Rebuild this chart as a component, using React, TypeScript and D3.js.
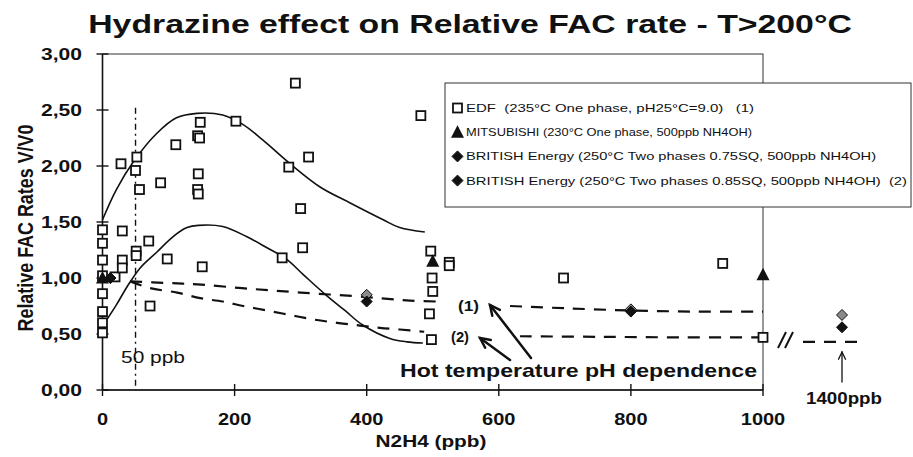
import React from 'react';
import * as d3 from 'd3';

const xTicks = [0, 200, 400, 600, 800, 1000];
const yTicks = [0, 0.5, 1, 1.5, 2, 2.5, 3];

// EDF (235°C One phase) [ppb, V/V0]
const edf: [number, number][] = [
  [0, 1.43], [0, 1.31], [0, 1.16], [0, 1.02], [0, 0.86], [0, 0.7], [0, 0.6], [0, 0.51],
  [19, 1.01], [28, 2.02], [30, 1.42], [30, 1.16], [30, 1.09],
  [52, 2.08], [50, 1.96], [56, 1.79], [51, 1.24], [51, 1.2],
  [70, 1.33], [72, 0.75], [88, 1.85], [98, 1.17], [111, 2.19],
  [144, 2.27], [147, 2.25], [145, 1.93], [144, 1.79], [145, 1.75], [148, 2.39], [151, 1.1],
  [202, 2.4], [272, 1.18], [282, 1.99], [292, 2.74], [300, 1.62], [303, 1.27], [312, 2.08],
  [482, 2.45], [497, 1.24], [499, 1.0], [500, 0.88], [495, 0.68], [498, 0.45], [525, 1.14], [525, 1.11],
  [698, 1.0], [939, 1.13], [1000, 0.47],
];
const mitsubishi: [number, number][] = [[0, 1.0], [500, 1.15], [1000, 1.03]];
const be075: [number, number][] = [[12, 1.0], [400, 0.85], [800, 0.72], [1400, 0.67]];
const be085: [number, number][] = [[12, 1.0], [400, 0.79], [800, 0.7], [1400, 0.56]];

// fitted curves
const upperFit: [number, number][] = [
  [0, 1.52], [21, 1.79], [47, 2.04], [82, 2.29], [112, 2.43], [143, 2.47], [182, 2.455],
  [213, 2.37], [243, 2.23], [284, 2.02], [330, 1.81], [375, 1.67], [425, 1.52], [450, 1.45], [488, 1.41],
];
const lowerFit: [number, number][] = [
  [0, 0.57], [21, 0.76], [37, 0.92], [57, 1.09], [82, 1.23], [107, 1.37], [128, 1.45], [145, 1.47],
  [182, 1.46], [218, 1.37], [249, 1.27], [278, 1.17], [304, 1.03], [338, 0.85], [367, 0.71],
  [394, 0.58], [435, 0.46], [461, 0.43], [485, 0.42],
];
const trend1a: [number, number][] = [
  [42, 0.97], [100, 0.955], [150, 0.94], [220, 0.905], [300, 0.87], [400, 0.83], [460, 0.8], [505, 0.79],
];
const trend1b: [number, number][] = [
  [617, 0.75], [700, 0.73], [800, 0.71], [900, 0.7], [1000, 0.7],
];
const trend2a: [number, number][] = [
  [42, 0.97], [72, 0.91], [113, 0.87], [148, 0.82], [182, 0.79], [213, 0.75], [249, 0.71],
  [284, 0.67], [319, 0.63], [355, 0.6], [390, 0.575], [420, 0.555], [450, 0.54], [487, 0.52],
];
const trend2b: [number, number][] = [[632, 0.48], [750, 0.475], [874, 0.47], [1000, 0.47]];
const breakTrend: [number, number][] = [[1322, 0.43], [1436, 0.43]];

const refPpb = 50;
const refTop = 2.52;

const title = 'Hydrazine effect on Relative FAC rate - T>200°C';
const xTitle = 'N2H4 (ppb)';
const yTitle = 'Relative FAC Rates V/V0';
const legendItems = [
  { label: 'EDF  (235°C One phase, pH25°C=9.0)   (1)', sym: 'square', w: 288 },
  { label: 'MITSUBISHI (230°C One phase, 500ppb NH4OH)', sym: 'triangle', w: 286 },
  { label: 'BRITISH Energy (250°C Two phases 0.75SQ, 500ppb NH4OH)', sym: 'diamond', w: 410 },
  { label: 'BRITISH Energy (250°C Two phases 0.85SQ, 500ppb NH4OH)  (2)', sym: 'diamond', w: 441 },
];

const FONT = '"Liberation Sans", Arial, Helvetica, sans-serif';
const fmt = d3.formatLocale({ decimal: ',', thousands: '.', grouping: [3], currency: ['', ''] }).format('.2f');

function T(props: any) {
  const { x, y, children, size = 14, weight = 'bold', anchor = 'start', w, sx = 1.3, rotate } = props;
  const tr = rotate
    ? `translate(${x},${y}) scale(${sx},1) rotate(${rotate})`
    : `translate(${x},${y}) scale(${sx},1)`;
  const extra: any = {};
  if (w) {
    extra.textLength = w / (rotate ? 1 : sx);
    extra.lengthAdjust = 'spacingAndGlyphs';
  }
  return (
    <text transform={tr} fontFamily={FONT} fontSize={size} fontWeight={weight} textAnchor={anchor}
      fill="#111" style={{ whiteSpace: 'pre' }} {...extra}>
      {children}
    </text>
  );
}

function Square({ cx, cy }: any) {
  return <rect x={cx - 4.5} y={cy - 4.5} width={9} height={9} fill="#fff" stroke="#111" strokeWidth={1.8} />;
}
function Tri({ cx, cy }: any) {
  return <path d={`M${cx},${cy - 7} L${cx + 6.5},${cy + 5.5} L${cx - 6.5},${cy + 5.5} Z`} fill="#111" />;
}
function Diamond({ cx, cy, fill = '#111' }: any) {
  return <path d={`M${cx},${cy - 5.5} L${cx + 5.5},${cy} L${cx},${cy + 5.5} L${cx - 5.5},${cy} Z`} fill={fill} stroke="#111" strokeWidth={1} />;
}

function Arrow({ x1, y1, x2, y2, head = 11, sw = 2.5 }: any) {
  const a = Math.atan2(y2 - y1, x2 - x1);
  const h1 = [x2 - head * Math.cos(a - 0.45), y2 - head * Math.sin(a - 0.45)];
  const h2 = [x2 - head * Math.cos(a + 0.45), y2 - head * Math.sin(a + 0.45)];
  return (
    <g stroke="#111" strokeWidth={sw} fill="none" strokeLinecap="round">
      <line x1={x1} y1={y1} x2={x2} y2={y2} />
      <polyline points={`${h1[0]},${h1[1]} ${x2},${y2} ${h2[0]},${h2[1]}`} />
    </g>
  );
}

export default function App() {
  const x = d3.scaleLinear().domain([0, 1000]).range([102.5, 763]);
  const xb = d3.scaleLinear().domain([1300, 1500]).range([792, 892]);
  const y = d3.scaleLinear().domain([0, 3]).range([390, 54]);
  const px = (v: number) => (v <= 1000 ? x(v) : xb(v));
  const smooth = d3.line<[number, number]>().x(d => px(d[0])).y(d => y(d[1])).curve(d3.curveCatmullRom.alpha(0.5));

  const [x0, x1] = x.range();
  const [yb, yt] = y.range();

  return (
    <svg width={913} height={457} style={{ position: 'absolute', left: 0, top: 0, background: '#fff' }}>
      <rect width={913} height={457} fill="#fff" />
      <T x={470} y={33} size={26} anchor="middle">{title}</T>

      {/* frame */}
      <rect x={x0} y={yt} width={x1 - x0} height={yb - yt} fill="none" stroke="#333" strokeWidth={1} />
      <line x1={x0} x2={x0} y1={yt} y2={yb} stroke="#111" strokeWidth={1.6} />
      <line x1={x0} x2={x1} y1={yb} y2={yb} stroke="#111" strokeWidth={1.6} />

      {yTicks.map(t => (
        <g key={'y' + t}>
          <line x1={x0 - 6} x2={x0 + 6} y1={y(t)} y2={y(t)} stroke="#111" strokeWidth={1.4} />
          <T x={82} y={y(t) + 6} size={16} anchor="end" w={41}>{fmt(t)}</T>
        </g>
      ))}
      {xTicks.map(t => (
        <g key={'x' + t}>
          <line x1={x(t)} x2={x(t)} y1={yb - 6} y2={yb + 6} stroke="#111" strokeWidth={1.4} />
          <T x={x(t)} y={425} size={16} anchor="middle" sx={1.25}>{String(t)}</T>
        </g>
      ))}
      <T x={431} y={447} size={16} anchor="middle">{xTitle}</T>
      <T x={33} y={228} size={17.5} anchor="middle" rotate={-90} w={207}>{yTitle}</T>

      {/* 50 ppb reference */}
      <line x1={x(refPpb)} x2={x(refPpb)} y1={y(refTop)} y2={yb} stroke="#111" strokeWidth={1.4} strokeDasharray="6,4,2,4" />
      <T x={121} y={363} size={16} weight="normal" w={64}>50 ppb</T>

      {/* fitted curves */}
      <path d={smooth(upperFit) || ''} fill="none" stroke="#111" strokeWidth={1.6} />
      <path d={smooth(lowerFit) || ''} fill="none" stroke="#111" strokeWidth={1.6} />
      {[trend1a, trend1b, trend2a, trend2b, breakTrend].map((d, i) => (
        <path key={'t' + i} d={smooth(d) || ''} fill="none" stroke="#111" strokeWidth={2.2} strokeDasharray="12,9" />
      ))}

      {/* points */}
      {edf.map((d, i) => <Square key={'e' + i} cx={px(d[0])} cy={y(d[1])} />)}
      {mitsubishi.map((d, i) => <Tri key={'m' + i} cx={px(d[0])} cy={y(d[1])} />)}
      {be075.map((d, i) => <Diamond key={'a' + i} cx={px(d[0])} cy={y(d[1])} fill="#8a8a8a" />)}
      {be085.map((d, i) => <Diamond key={'b' + i} cx={px(d[0])} cy={y(d[1])} />)}

      {/* annotations */}
      <T x={458} y={311} size={14} w={21}>(1)</T>
      <T x={451} y={342} size={14} w={18}>(2)</T>
      <Arrow x1={531} y1={358} x2={490} y2={305} />
      <Arrow x1={510} y1={360} x2={480} y2={338} />
      <T x={400} y={377} size={18} w={357}>Hot temperature pH dependence</T>

      {/* axis break */}
      <g stroke="#111" strokeWidth={2}>
        <line x1={778} y1={348} x2={786} y2={332} />
        <line x1={785} y1={348} x2={793} y2={332} />
      </g>
      <Arrow x1={xb(1400)} y1={382} x2={xb(1400)} y2={352} head={8} sw={1.3} />
      <T x={xb(1400) + 2} y={404} size={16} anchor="middle" w={76}>1400ppb</T>

      {/* legend */}
      <g>
        <rect x={445} y={83} width={466} height={124} fill="#fff" stroke="#333" strokeWidth={1} />
        {legendItems.map((it, i) => {
          const cy = 108 + i * 24.2;
          return (
            <g key={'l' + i}>
              {it.sym === 'square' && <Square cx={457.5} cy={cy} />}
              {it.sym === 'triangle' && <Tri cx={457.5} cy={cy} />}
              {it.sym === 'diamond' && <Diamond cx={457.5} cy={cy} />}
              <T x={466} y={cy + 4} size={10.5} weight="normal" w={it.w}>{it.label}</T>
            </g>
          );
        })}
      </g>
    </svg>
  );
}
